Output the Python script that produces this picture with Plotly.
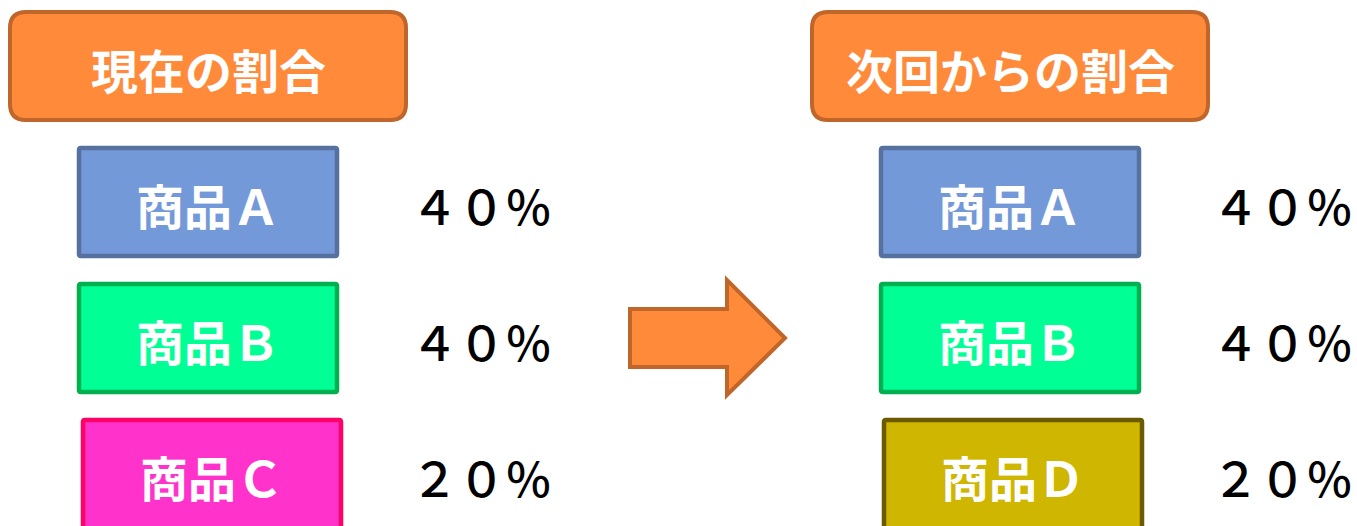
import plotly.graph_objects as go

# ---- data ----
titles = ["現在の割合", "次回からの割合"]
current_items = ["商品Ａ", "商品Ｂ", "商品Ｃ"]
current_shares = ["４０％", "４０％", "２０％"]
next_items = ["商品Ａ", "商品Ｂ", "商品Ｄ"]
next_shares = ["４０％", "４０％", "２０％"]
item_fill = {"商品Ａ": "#7499D8", "商品Ｂ": "#00FF95", "商品Ｃ": "#FF33CC", "商品Ｄ": "#CFB600"}
item_line = {"商品Ａ": "#56709F", "商品Ｂ": "#00B050", "商品Ｃ": "#FF0066", "商品Ｄ": "#6B5A00"}

W, H = 1357, 526
FONT = "Noto Sans CJK JP"

def rrect(x0, y0, x1, y1, r):
    return (f"M {x0+r},{y0} L {x1-r},{y0} Q {x1},{y0} {x1},{y0+r} "
            f"L {x1},{y1-r} Q {x1},{y1} {x1-r},{y1} L {x0+r},{y1} "
            f"Q {x0},{y1} {x0},{y1-r} L {x0},{y0+r} Q {x0},{y0} {x0+r},{y0} Z")

shapes, annots = [], []

# title boxes
title_boxes = [(10, 12, 406, 120), (812, 12, 1208, 120)]
for t, (x0, y0, x1, y1) in zip(titles, title_boxes):
    shapes.append(dict(type="path", path=rrect(x0, y0, x1, y1, 16), fillcolor="#FF8A3A",
                       line=dict(color="#C0662A", width=4), layer="below"))
    annots.append(dict(x=(x0+x1)/2, y=(y0+y1)/2+2, text=f"<b>{t}</b>", showarrow=False,
                       font=dict(family=FONT, size=47, color="white"),
                       xanchor="center", yanchor="middle"))

row_y = [(148, 256), (284, 392), (420, 540)]
row_c = [204, 340, 476]
cols = [(current_items, current_shares, [(79, 337), (79, 337), (83, 341)], 481),
        (next_items, next_shares, [(881, 1139), (881, 1139), (884, 1142)], 1282)]
for items, shares, xs, px in cols:
    for it, sh, (x0, x1), (y0, y1), yc in zip(items, shares, xs, row_y, row_c):
        shapes.append(dict(type="path", path=rrect(x0, y0, x1, y1, 2), fillcolor=item_fill[it],
                           line=dict(color=item_line[it], width=4.5), layer="below"))
        annots.append(dict(x=(x0+x1)/2, y=yc, text=f"<b>{it}</b>", showarrow=False,
                           font=dict(family=FONT, size=48, color="white"),
                           xanchor="center", yanchor="middle"))
        annots.append(dict(x=px, y=yc, text=sh, showarrow=False,
                           font=dict(family=FONT, size=47, color="black", weight=500),
                           xanchor="center", yanchor="middle"))

# arrow
arrow = "M 630,309 L 727,309 L 727,280 L 785,338 L 727,395 L 727,367 L 630,367 Z"
shapes.append(dict(type="path", path=arrow, fillcolor="#FF8A3A",
                   line=dict(color="#C0662A", width=4)))

fig = go.Figure()
fig.update_layout(width=W, height=H, margin=dict(l=0, r=0, t=0, b=0),
                  paper_bgcolor="white", plot_bgcolor="white",
                  xaxis=dict(range=[0, W], visible=False, fixedrange=True),
                  yaxis=dict(range=[H, 0], visible=False, fixedrange=True),
                  shapes=shapes, annotations=annots, showlegend=False)
fig.write_html("out.html", config={"displayModeBar": False},
               post_script="document.body.style.margin='0';document.body.style.overflow='hidden';")
